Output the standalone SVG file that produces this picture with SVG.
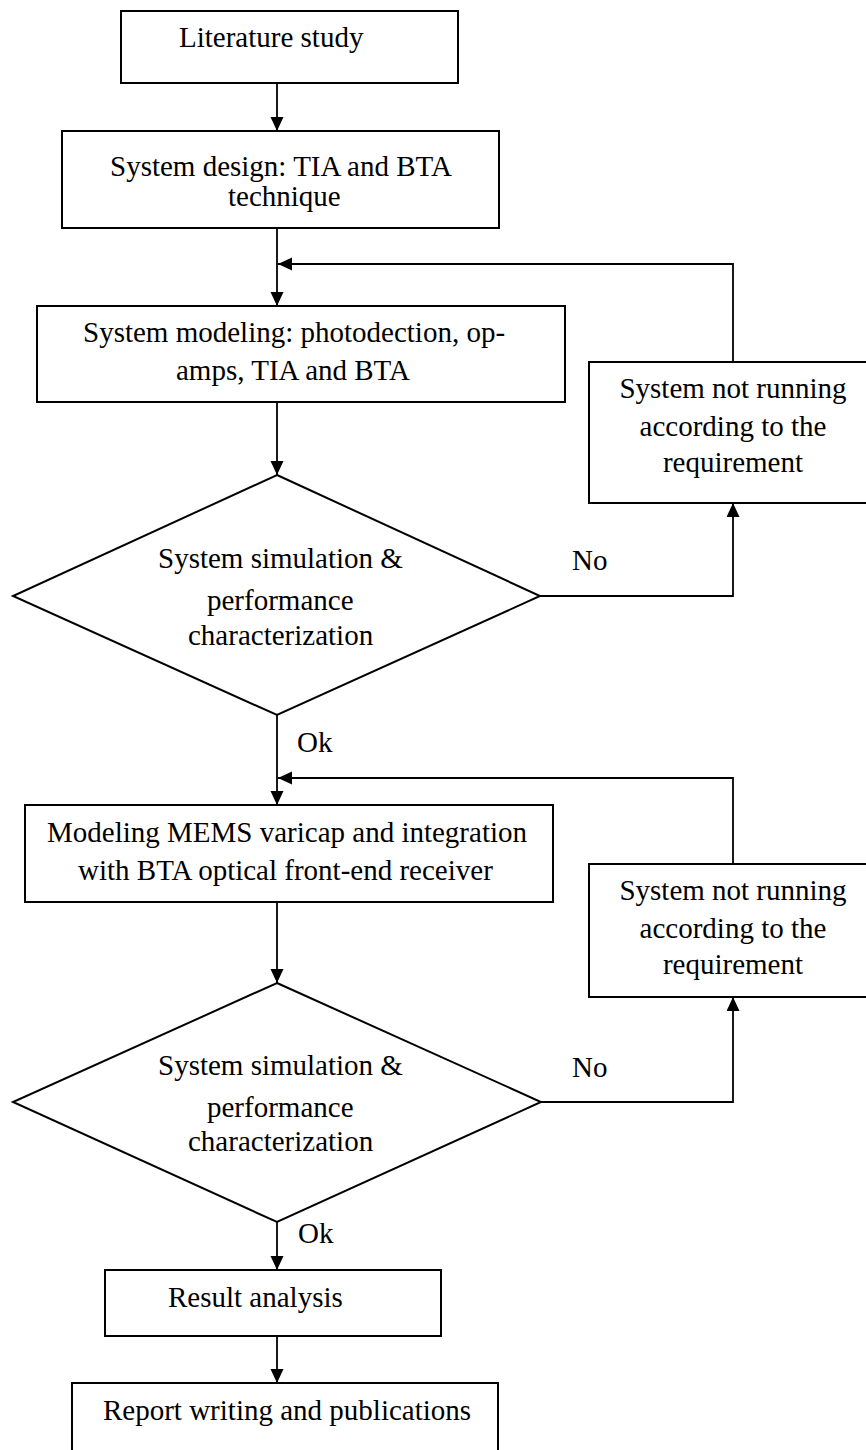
<svg xmlns="http://www.w3.org/2000/svg" width="866" height="1450" viewBox="0 0 866 1450">
<style>
.box{fill:#fff;stroke:#000;stroke-width:2}
.t{font-family:"Liberation Serif","Times New Roman",serif;font-size:29px;fill:#000}
.m{text-anchor:middle}
.c{fill:none;stroke:#000;stroke-width:1.8}
</style>
<defs>
<marker id="ah" markerUnits="userSpaceOnUse" markerWidth="15" markerHeight="14" refX="14" refY="6.5" orient="auto">
<path d="M0,0 L14,6.5 L0,13 z" fill="#000"/>
</marker>
</defs>
<rect width="866" height="1450" fill="#fff"/>
<g id="connectors">
<path class="c" d="M277,83 V131" marker-end="url(#ah)"/>
<path class="c" d="M277,228 V306" marker-end="url(#ah)"/>
<path class="c" d="M733,362 V264 H278" marker-end="url(#ah)"/>
<path class="c" d="M277,402 V475" marker-end="url(#ah)"/>
<path class="c" d="M540,596 H733 V503" marker-end="url(#ah)"/>
<path class="c" d="M277,715 V805" marker-end="url(#ah)"/>
<path class="c" d="M733,864 V778 H278" marker-end="url(#ah)"/>
<path class="c" d="M277,902 V983" marker-end="url(#ah)"/>
<path class="c" d="M541,1102 H733 V997" marker-end="url(#ah)"/>
<path class="c" d="M277,1222 V1270" marker-end="url(#ah)"/>
<path class="c" d="M277,1336 V1383" marker-end="url(#ah)"/>
<text class="t" x="572" y="570">No</text>
<text class="t" x="297" y="752">Ok</text>
<text class="t" x="572" y="1077">No</text>
<text class="t" x="298" y="1243">Ok</text>
</g>
<g id="literature">
<rect class="box" x="121" y="11" width="337" height="72"/>
<text class="t" x="179" y="47">Literature study</text>
</g>
<g id="system-design">
<rect class="box" x="62" y="131" width="437" height="97"/>
<text class="t" x="110" y="176">System design: TIA and BTA</text>
<text class="t" x="228" y="206">technique</text>
</g>
<g id="system-modeling">
<rect class="box" x="37" y="306" width="528" height="96"/>
<text class="t" x="83" y="342">System modeling: photodection, op-</text>
<text class="t" x="176" y="380">amps, TIA and BTA</text>
</g>
<g id="not-running-1">
<rect class="box" x="589" y="362" width="290" height="141"/>
<text class="t m" x="733" y="398">System not running</text>
<text class="t m" x="733" y="436">according to the</text>
<text class="t m" x="733" y="472">requirement</text>
</g>
<g id="decision-1">
<polygon class="box" points="277,475 540,596 277,715 13,596"/>
<text class="t" x="158" y="568">System simulation &amp;</text>
<text class="t" x="207" y="610">performance</text>
<text class="t" x="188" y="645">characterization</text>
</g>
<g id="mems">
<rect class="box" x="25" y="805" width="528" height="97"/>
<text class="t" x="47" y="842">Modeling MEMS varicap and integration</text>
<text class="t" x="78" y="880">with BTA optical front-end receiver</text>
</g>
<g id="not-running-2">
<rect class="box" x="589" y="864" width="290" height="133"/>
<text class="t m" x="733" y="900">System not running</text>
<text class="t m" x="733" y="938">according to the</text>
<text class="t m" x="733" y="974">requirement</text>
</g>
<g id="decision-2">
<polygon class="box" points="277,983 541,1102 277,1222 13,1102"/>
<text class="t" x="158" y="1075">System simulation &amp;</text>
<text class="t" x="207" y="1117">performance</text>
<text class="t" x="188" y="1151">characterization</text>
</g>
<g id="result">
<rect class="box" x="105" y="1270" width="336" height="66"/>
<text class="t" x="168" y="1307">Result analysis</text>
</g>
<g id="report">
<rect class="box" x="72" y="1383" width="426" height="90"/>
<text class="t" x="103" y="1420">Report writing and publications</text>
</g>
</svg>
